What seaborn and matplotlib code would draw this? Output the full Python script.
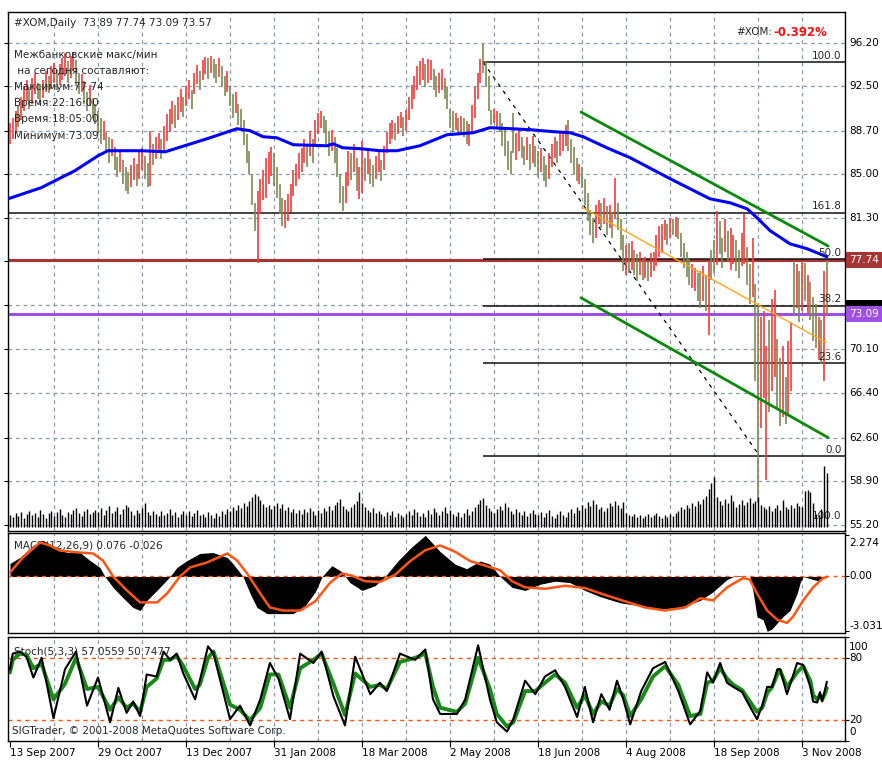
import matplotlib
matplotlib.use("Agg")
import matplotlib.pyplot as plt
import matplotlib.transforms as mtransforms
from matplotlib.patches import Rectangle
import seaborn as sns

# values; x is the bar number (0 = 13 Sep 2007)
date_pos = [0, 32, 64, 96, 128, 160, 192, 224, 256, 288]
date_labels = ["13 Sep 2007", "29 Oct 2007", "13 Dec 2007", "31 Jan 2008", "18 Mar 2008",
               "2 May 2008", "18 Jun 2008", "4 Aug 2008", "18 Sep 2008", "3 Nov 2008"]

price_ticks = [96.20, 92.50, 88.70, 85.00, 81.30, 77.60, 73.85, 70.10, 66.40, 62.60, 58.90, 55.20]
price_ticklabels = ["96.20", "92.50", "88.70", "85.00", "81.30", "", "", "70.10", "66.40",
                    "62.60", "58.90", "55.20"]

# daily bars: lows / highs, direction r = up (red), g = down (olive)
lows = [87.6, 88.0, 88.5, 89.0, 89.6, 90.4, 91.2, 90.6, 91.0, 91.8, 91.4, 90.9, 91.5, 92.0, 91.9, 92.3,
        92.8, 92.2, 92.6, 93.0, 93.4, 92.8, 93.2, 93.8, 92.5, 91.8, 92.0, 91.0, 90.4, 90.8, 89.8, 89.3,
        88.4, 87.6, 87.9, 86.8, 86.0, 86.6, 85.4, 84.8, 85.2, 84.2, 83.6, 83.35, 83.9, 84.5, 84.0, 84.6,
        85.4, 84.6, 83.9, 84.0, 85.8, 86.3, 86.8, 86.3, 86.9, 87.8, 88.6, 89.3, 88.9, 89.6, 90.3, 89.9,
        90.8, 91.4, 90.6, 91.8, 92.7, 92.2, 93.0, 93.5, 93.1, 93.6, 93.2, 92.8, 93.3, 92.4, 91.7, 92.0,
        90.8, 89.8, 90.2, 89.2, 88.9, 87.5, 86.0, 85.0, 82.4, 80.2, 77.5, 81.6, 82.8, 83.0, 84.2, 84.9,
        84.0, 83.0, 81.6, 80.6, 80.4, 81.0, 81.8, 83.2, 84.0, 84.6, 85.2, 86.0, 85.6, 86.6, 86.0, 87.4,
        88.4, 88.9, 88.5, 87.6, 86.6, 87.0, 86.0, 84.8, 82.6, 81.9, 82.6, 84.0, 84.5, 85.2, 83.6, 82.9,
        83.4, 84.4, 85.0, 84.2, 83.9, 84.6, 85.2, 84.4, 85.4, 86.8, 87.6, 88.0, 87.9, 88.4, 88.9, 88.3,
        88.7, 89.6, 90.6, 91.4, 92.2, 92.6, 93.0, 92.4, 92.8, 93.0, 92.2, 91.6, 91.9, 92.2, 91.4, 90.6,
        88.9, 88.6, 88.8, 88.4, 88.6, 88.2, 87.6, 87.4, 88.5, 89.8, 91.4, 92.8, 93.6, 92.4, 90.4, 89.2,
        89.4, 89.0, 88.6, 87.4, 86.6, 85.4, 85.0, 86.8, 86.2, 87.0, 86.4, 85.8, 86.2, 85.4, 86.0, 85.6,
        84.8, 85.2, 84.4, 83.9, 84.6, 85.6, 86.4, 86.0, 86.6, 87.0, 87.4, 87.0, 86.0, 85.0, 84.4, 84.2,
        83.8, 82.4, 81.0, 79.8, 79.2, 79.6, 80.8, 80.4, 80.8, 79.8, 80.4, 79.6, 81.2, 80.3, 78.6, 76.8,
        76.4, 76.6, 76.9, 76.4, 75.9, 76.4, 76.0, 76.2, 75.9, 76.3, 76.8, 77.2, 78.0, 78.3, 79.4, 79.0,
        79.6, 79.8, 79.7, 79.5, 78.0, 77.0, 76.3, 75.6, 75.3, 75.1, 74.2, 73.6, 74.2, 73.4, 71.3, 76.0,
        76.6, 77.3, 78.2, 77.0, 78.4, 77.6, 76.9, 77.4, 76.8, 76.2, 77.2, 77.4, 75.6, 74.0, 74.6, 67.4,
        57.0, 63.4, 66.0, 59.0, 64.8, 66.6, 67.8, 65.0, 63.6, 64.4, 63.8, 64.6, 66.6, 73.0, 73.6, 72.4,
        73.4, 74.2, 73.2, 72.6, 70.8, 70.2, 69.2, 68.9, 67.4, 73.09]
highs = [89.4, 89.8, 90.4, 90.9, 91.6, 92.5, 93.0, 92.4, 93.2, 93.6, 92.8, 92.6, 93.0, 93.8, 93.4, 94.2,
         94.5, 93.9, 94.4, 94.9, 95.3, 94.6, 95.1, 95.4, 94.7, 93.6, 93.5, 92.9, 92.0, 92.6, 91.5, 91.0,
         90.4, 89.8, 89.5, 88.6, 88.2, 88.0, 87.3, 86.5, 86.9, 86.2, 85.6, 85.2, 85.8, 86.4, 85.9, 87.0,
         87.2, 86.6, 86.0, 88.7, 87.6, 88.2, 88.5, 88.0, 89.1, 90.1, 90.6, 91.2, 90.9, 91.6, 92.3, 91.6,
         92.5, 93.0, 92.2, 93.6, 94.3, 93.8, 94.7, 95.0, 94.9, 95.1, 94.8, 94.4, 94.9, 94.2, 93.4, 93.8,
         92.5, 91.8, 92.0, 91.0, 90.6, 89.6, 88.4, 87.0, 85.0, 82.6, 83.6, 84.6, 85.4, 86.4, 86.9, 87.3,
         86.8, 85.6, 84.2, 83.0, 82.8, 83.3, 84.2, 85.4, 85.9, 86.8, 87.2, 88.0, 87.4, 88.7, 88.0, 89.6,
         90.2, 90.4, 90.0, 89.6, 88.7, 88.8, 88.2, 87.2, 85.0, 84.0, 85.2, 87.0, 86.8, 87.6, 86.4, 85.6,
         87.8, 86.4, 87.2, 86.3, 85.8, 86.6, 87.0, 86.2, 87.4, 88.6, 89.4, 89.6, 89.4, 90.0, 90.3, 89.9,
         90.5, 91.6, 92.6, 93.4, 94.2, 94.6, 94.9, 94.4, 94.8, 94.7, 94.0, 93.4, 93.6, 94.0, 93.2, 92.4,
         90.6, 90.4, 90.2, 89.8, 90.0, 89.8, 89.5, 89.3, 90.9, 92.4, 93.6, 94.8, 96.1, 94.6, 93.4, 90.5,
         90.6, 90.4, 90.2, 89.4, 88.8, 87.8, 87.0, 90.2, 88.5, 88.8, 88.2, 87.4, 88.2, 87.6, 88.3, 87.4,
         87.0, 87.2, 86.6, 85.8, 86.8, 87.6, 88.2, 87.8, 88.6, 88.7, 89.2, 89.6, 88.0, 87.3, 86.4, 85.9,
         85.6, 84.6, 83.4, 82.0, 81.3, 82.4, 82.8, 82.6, 83.0, 82.3, 82.4, 81.8, 84.7, 82.6, 81.2, 79.8,
         79.0, 79.2, 79.3, 78.6, 78.2, 78.4, 77.8, 78.0, 77.6, 78.3, 78.4, 79.8, 80.6, 80.8, 81.1, 80.8,
         81.3, 81.2, 81.4, 81.3, 80.0, 79.2, 78.4, 77.8, 77.4, 77.0, 76.6, 76.8, 77.2, 76.4, 77.6, 78.6,
         79.4, 81.9, 81.0, 79.6, 81.2, 80.2, 80.4, 79.8, 79.4, 78.6, 80.0, 81.6, 78.8, 77.4, 79.6, 75.7,
         73.8, 72.9, 73.4, 70.4, 72.6, 74.4, 75.2, 71.0, 69.4, 70.4, 67.8, 70.8, 72.4, 77.6, 77.4, 76.8,
         77.6, 77.5, 76.4, 75.8, 74.6, 74.0, 72.9, 72.6, 76.8, 77.74]
direction_blocks = ["rrrgrrrgrrggrrgrrgrrrgrrggrggrgg",
                    "ggrggrggrgggrrgrrggrgrrgrrrrgrrg",
                    "rrgrrgrrgrggrggrggrgggggggrrrrrr",
                    "ggggrrrrrrrrgrgrrrgggrggggrrgrgr",
                    "rgrggrrgrrrrgrrgrrrrrrrgrrggrrgg",
                    "ggrgrggrrrrrggggrrggggggrrggrgrg",
                    "grggrrrgrrrggggrgggggrrgrgrgrggg",
                    "rgrggrgrgrrrrrrgrgrgggggrrggrgrg",
                    "grggrgrrggrrggrggrrrgrrggrgrrgrg",
                    "rgrgggrgrg"]
directions = "".join(direction_blocks)

# volume (millions of shares)
volume = [12, 10, 14, 11, 15, 9, 13, 16, 12, 14, 10, 17, 13, 9, 14, 16, 11, 15, 18, 12, 10, 15, 13, 17,
          19, 14, 11, 16, 18, 13, 15, 17,
          15, 19, 12, 17, 21, 14, 16, 20, 13, 18, 22, 20, 16, 12, 17, 14, 19, 24, 15, 12, 16, 13, 11, 16,
          12, 14, 18, 12, 15, 10, 13, 16,
          12, 16, 11, 14, 17, 12, 13, 10, 15, 12, 9, 14, 11, 16, 13, 18, 16, 20, 17, 22, 19, 24, 21, 26,
          30, 33, 31, 27, 23, 20, 22, 18,
          21, 24, 19, 23, 17, 20, 15, 18, 14, 17, 13, 18, 15, 19, 16, 12, 17, 14, 19, 16, 21, 17, 22, 25,
          28, 21, 18, 16, 20, 23, 26, 35,
          24, 20, 17, 15, 19, 14, 16, 13, 11, 15, 12, 16, 10, 14, 12, 10, 13, 16, 12, 18, 15, 11, 14, 10,
          17, 13, 19, 15, 12, 16, 20, 14,
          17, 13, 11, 15, 10, 14, 18, 12, 16, 20, 23, 27, 29, 22, 19, 16, 14, 18, 21, 17, 24, 20, 16, 13,
          18, 15, 12, 16, 11, 14, 17, 13,
          12, 15, 10, 14, 17, 11, 9, 13, 16, 12, 10, 15, 18, 14, 20, 17, 22, 19, 25, 21, 27, 23, 18, 20,
          16, 19, 24, 21, 26, 22, 19, 25,
          14, 12, 11, 13, 10, 12, 9, 11, 13, 10, 12, 14, 11, 9, 12, 10, 13, 11, 14, 16, 20, 18, 22, 19,
          24, 21, 26, 23, 28, 31, 38, 44,
          50, 30, 26, 22, 28, 24, 32, 26, 20, 23, 27, 22, 25, 29, 24, 26, 30, 22, 20, 18, 21, 16, 19, 22,
          17, 27, 20, 18, 22, 19, 24, 21,
          20, 36, 37, 35, 24, 13, 12, 18, 61, 54]

# moving average (blue)
ma_idx = [-0.7, 11.3, 23.6, 32, 35.6, 47.6, 56.4, 65.8, 72.7, 82.5, 87.3, 92, 97, 103, 115.3, 117.5,
          121, 127.3, 134.5, 140.7, 149, 158.9, 168.4, 174.5, 189, 197.5, 203.6, 208.4, 217, 225.5,
          240, 254.5, 261.8, 268, 271.6, 276.4, 283.6, 289.8, 297]
ma_val = [82.92, 83.86, 85.31, 86.58, 87.01, 87.01, 86.92, 87.60, 88.11, 88.88, 88.71, 88.20, 88.11,
          87.52, 87.43, 87.60, 87.26, 87.18, 87.01, 87.01, 87.43, 88.37, 88.54, 88.97, 88.80, 88.63,
          88.54, 88.20, 87.26, 86.41, 84.63, 82.92, 82.58, 82.07, 81.31, 80.20, 79.09, 78.67, 77.99]

# drawn objects: channel, regression, fibonacci
channel_x = [207.6, 297.5]
channel_upper = [90.3, 78.9]
channel_lower = [74.5, 62.6]
regress_x = [208, 296.7]
regress_y = [82.2, 70.7]
fib_x = [172, 272.7]
fib_y = [94.54, 61.0]
fib_levels = [0.0, 23.6, 38.2, 50.0, 61.8, 100.0]
fib_names = ["0.0", "23.6", "38.2", "50.0", "161.8", "100.0"]
day_high, day_low, last_price = 77.74, 73.09, 73.57

# MACD(12,26,9)
macd_idx = [0, 3.6, 8.4, 12, 17, 20.7, 25.5, 29, 32.7, 34.5, 37.5, 41, 44.7, 47.3, 49.8, 54.5, 58.2,
            60.7, 64.4, 69, 73.8, 79, 81, 84.7, 87.3, 89.8, 93.5, 98.2, 103, 107.3, 111, 113.5, 117,
            120.7, 123.6, 128, 132.7, 136.4, 141, 146, 151, 156.4, 161.8, 166, 171, 174.5, 178.2,
            182.5, 187.3, 192.7, 198.2, 203.6, 209, 214.5, 221.8, 229, 236.4, 243.6, 251, 255.6,
            260.7, 263.6, 269, 270.2, 271.6, 273.8, 275.3, 277, 279, 281, 283.6, 286.2, 287.3,
            288.4, 292, 294.5, 297]
macd_hist = [0.72, 1.05, 1.71, 1.99, 1.61, 1.32, 1.32, 0.89, 0.50, 0.0, -0.61, -1.16, -1.71, -1.88,
             -1.32, -0.60, 0.0, 0.50, 0.88, 1.27, 1.32, 1.05, 0.72, 0.0, -0.94, -1.71, -2.05, -2.05,
             -2.05, -1.62, -0.85, 0.0, 0.60, 0.26, -0.34, -0.77, -0.51, 0.0, 0.85, 1.62, 2.27, 1.37,
             0.68, 0.43, 0.85, 0.68, 0.0, -0.60, -0.77, -0.43, -0.26, -0.34, -0.77, -1.11, -1.45,
             -1.62, -1.79, -1.71, -1.32, -0.85, -0.17, 0.04, 0.0, -0.85, -2.22, -2.39, -3.03, -2.9,
             -2.56, -2.22, -1.88, -0.94, -0.34, 0.0, -0.17, -0.26, 0.076]
signal_idx = [0, 4.7, 10.9, 14.5, 18.2, 25.5, 30.2, 33.8, 37.5, 42.5, 47.3, 53.5, 57.1, 61.8, 65.5,
              71.6, 79, 82.5, 86.2, 91, 94.5, 99.3, 105.5, 111, 116.4, 120.7, 124.4, 129, 134.5, 140,
              145.5, 151, 156.4, 161.8, 167.3, 172.7, 178.2, 182.5, 187.3, 194.5, 201.8, 209, 216.4,
              223.6, 230.9, 238.2, 245.5, 251, 255.6, 260.7, 266.5, 269, 271.6, 275.3, 279, 282.5,
              284.7, 288.4, 292, 295.6, 297]
signal_val = [0.22, 1.05, 1.88, 1.71, 1.43, 1.32, 1.27, 0.88, 0.0, -0.77, -1.43, -1.43, -0.94, 0.0,
              0.50, 0.77, 1.27, 0.89, 0.17, -0.94, -1.71, -1.88, -1.88, -1.37, -0.34, 0.17, 0.04,
              -0.26, -0.30, 0.09, 0.85, 1.45, 1.71, 1.37, 0.85, 0.60, 0.34, -0.26, -0.60, -0.68, -0.51,
              -0.64, -1.02, -1.37, -1.71, -1.88, -1.71, -1.20, -1.32, -0.60, -0.09, -0.17, -0.94,
              -1.88, -2.39, -2.56, -2.22, -1.32, -0.60, -0.09, -0.026]
macd_ticks = [2.274, 0.0, -3.031]
macd_ticklabels = ["2.274", "0.00", "-3.031"]

# Stochastic(5,3,3)
stoch_idx = [0, 1, 3.6, 6, 8.5, 11.5, 15.8, 20, 24, 28, 32, 36.4, 39.4, 42.4, 44.8, 47.3, 49.7, 53.3,
             55.8, 58.2, 60.6, 63, 67.3, 69, 72, 74, 80, 83.6, 87.3, 91, 94.5, 97.6, 101.8, 105.5,
             110.3, 113.3, 117.6, 121.8, 125.5, 131, 134.5, 137, 141.8, 147.3, 151, 153.8, 156.4,
             162.5, 165.5, 170.2, 174.5, 177, 180.7, 183, 187.3, 191, 194.5, 198.2, 201.8, 206.2, 209,
             212, 215, 218, 220.7, 223, 225.5, 229.5, 233.8, 238.2, 243, 247.3, 251, 253.5, 255.6,
             258.2, 260.7, 263, 266.2, 268, 271.6, 273.5, 275.3, 277.1, 279, 280, 282.5, 286.2, 288.4,
             291, 292, 293.5, 294.5, 295.3, 296.4, 297]
stoch_main = [69, 84, 86, 81, 61, 80, 22, 69, 86, 34, 61, 18, 51, 27, 38, 24, 64, 62, 86, 78, 84, 65,
              40, 58, 91, 84, 21, 34, 15, 40, 75, 60, 21, 84, 75, 86, 43, 15, 81, 45, 56, 48, 84,
              78, 88, 40, 26, 26, 40, 92, 40, 18, 9, 21, 58, 45, 62, 68, 52, 23, 52, 18, 45, 30, 58,
              40, 16, 48, 70, 76, 48, 16, 29, 66, 56, 75, 56, 52, 47, 38, 21, 34, 52, 52, 69, 69, 45,
              75, 73, 52, 38, 37, 47, 38, 50, 57]
stoch_signal = [66, 78, 84, 83, 70, 74, 40, 55, 80, 50, 52, 30, 42, 32, 36, 28, 52, 60, 78, 78, 82, 72,
                50, 54, 80, 86, 35, 30, 20, 32, 64, 64, 32, 70, 78, 84, 55, 25, 65, 52, 54, 50, 76,
                80, 84, 52, 32, 28, 36, 80, 50, 26, 14, 18, 48, 48, 56, 64, 56, 32, 44, 26, 38, 34, 50,
                44, 24, 40, 62, 72, 54, 24, 26, 56, 58, 70, 60, 54, 49, 42, 28, 32, 46, 52, 64, 68, 52,
                66, 72, 58, 44, 40, 44, 40, 46, 51]
stoch_ticks = [100, 80, 20, 0]
stoch_ticklabels = ["100", "80", "20", "0"]

n = min(len(lows), len(highs), len(directions), len(volume))
bar_idx = list(range(n))

# ---------------------------------------------------------------------------
sns.set_theme(style="white")
plt.rcParams['font.family'] = ['DejaVu Sans']
FS = 7.5
GRID = "#8c9bab"
RED = "#f23c3c"
OLIVE = "#7b8a52"
ORANGE_RED = "#ff5514"

W, H = 882, 760
fig = plt.figure(figsize=(W / 100, H / 100), dpi=100)


def rect(x0, y0, x1, y1):
    return [x0 / W, 1 - y1 / H, (x1 - x0) / W, (y1 - y0) / H]


ax = fig.add_axes(rect(8, 12, 845, 531))
ax_m = fig.add_axes(rect(8, 533, 845, 633))
ax_s = fig.add_axes(rect(8, 637, 845, 741))
XL = (-0.73, 303.6)

for a in (ax, ax_m, ax_s):
    a.set_xlim(*XL)
    a.set_facecolor("white")
    for sp in a.spines.values():
        sp.set_color("black")
        sp.set_linewidth(1.0)
        sp.set_visible(True)
    for g in range(16, 304, 16):
        a.axvline(g, color=GRID, lw=0.9, ls=(0, (3, 3)), zorder=0.5)
    a.yaxis.tick_right()
    a.tick_params(axis='y', right=True, left=False, labelleft=False, labelright=False, length=3,
                  width=0.8, colors="black")
    a.tick_params(axis='x', bottom=False, labelbottom=False)


def right_labels(a, values, labels, shifts=None):
    # value labels in the right margin; shift in pixels (positive = down)
    tr = mtransforms.blended_transform_factory(a.transAxes, a.transData)
    shifts = shifts or [0] * len(values)
    for v, s, d in zip(values, labels, shifts):
        if s:
            off = mtransforms.offset_copy(tr, fig=fig, x=0, y=-d * 0.72, units="points")
            a.text(1.0048, v, s, transform=off, ha="left", va="center", fontsize=FS, color="black")


# ---- main price panel
ax.set_ylim(54.66, 98.81)
ax.set_yticks(price_ticks)
ax.set_yticklabels([])
right_labels(ax, price_ticks, price_ticklabels)
for p in price_ticks:
    ax.axhline(p, color=GRID, lw=0.9, ls=(0, (3, 3)), zorder=0.5)

bar_colors = [RED if c == "r" else OLIVE for c in directions[:n]]
ax.vlines(bar_idx, lows[:n], highs[:n], colors=bar_colors, lw=1.2, zorder=3)

ax.axhline(day_high, color="#a83434", lw=2.2, zorder=2)
ax.axhline(day_low, color="#9d4fe6", lw=2.2, zorder=2)

fib_span = fib_y[0] - fib_y[1]
for lvl, name in zip(fib_levels, fib_names):
    price = fib_y[1] + lvl / 100 * fib_span
    start = XL[0] if name == "161.8" else fib_x[0]
    ax.hlines(price, start, XL[1], color="#111111", lw=1.1, zorder=2.5)
    ax.text(302.3, price + 0.12, name, ha="right", va="bottom", fontsize=FS, zorder=6)
ax.text(302.3, 55.9, "100.0", ha="right", va="center", fontsize=FS, zorder=1)
ax.plot(fib_x, fib_y, color="black", lw=0.9, ls=(0, (3, 4)), zorder=2.6)

ax.plot(channel_x, channel_upper, color="#0a8a0a", lw=2.0, zorder=4)
ax.plot(channel_x, channel_lower, color="#0a8a0a", lw=2.0, zorder=4)
ax.plot(regress_x, regress_y, color="#ffa61a", lw=1.0, zorder=4)
sns.lineplot(x=ma_idx, y=ma_val, ax=ax, color="#0000ff", lw=2.2, zorder=5, legend=False)

# right side price boxes (bid box mostly hidden behind the low box)
bt = mtransforms.blended_transform_factory(ax.transAxes, ax.transData)
ax.add_patch(Rectangle((1.001, last_price - 0.7), 0.06, 1.4, transform=bt, fc="black", ec="none",
                       clip_on=False, zorder=7))
ax.text(1.0055, day_low, f"{day_low:.2f}", transform=bt, ha="left", va="center", fontsize=FS,
        color="white", bbox=dict(boxstyle="square,pad=0.3", fc="#9d4fe6", ec="none"), zorder=8)
ax.text(1.0055, day_high, f"{day_high:.2f}", transform=bt, ha="left", va="center", fontsize=FS,
        color="white", bbox=dict(boxstyle="square,pad=0.3", fc="#a83434", ec="none"), zorder=8)

# volume in the bottom of the price panel
ax_v = ax.twinx()
ax_v.set_xlim(*XL)
ax_v.set_ylim(-4, 515)
ax_v.vlines(bar_idx, 0, volume[:n], colors="black", lw=1.0)
ax_v.axis("off")

# texts
info = [("#XOM,Daily  73.89 77.74 73.09 73.57", 23),
        ("Межбанковские макс/мин", 55),
        (" на сегодня составляют:", 71),
        ("Максимум:77.74", 87),
        ("Время:22:16:00", 103),
        ("Время:18:05:00", 119),
        ("Минимум:73.09", 136)]
for s, ypx in info:
    fig.text(14 / W, 1 - ypx / H, s, ha="left", va="center", fontsize=FS, zorder=10)
fig.text(772 / W, 1 - 32 / H, "#XOM:", ha="right", va="center", fontsize=FS)
fig.text(773 / W, 1 - 32 / H, "-0.392%", ha="left", va="center", fontsize=8.5, color="#ff1010",
         fontweight="bold")

# ---- MACD panel
ax_m.set_ylim(-3.12, 2.40)
ax_m.text(0.0072, 0.87, "MACD(12,26,9) 0.076 -0.026", transform=ax_m.transAxes, fontsize=FS,
          ha="left", va="center", zorder=1)
ax_m.fill_between(macd_idx, macd_hist, 0, color="black", lw=0, zorder=2)
ax_m.axhline(0, color=ORANGE_RED, lw=1.0, ls=(0, (3, 3)), zorder=2.5)
sns.lineplot(x=signal_idx, y=signal_val, ax=ax_m, color=ORANGE_RED, lw=1.8, zorder=3, legend=False)
ax_m.set_yticks(macd_ticks)
ax_m.set_yticklabels([])
right_labels(ax_m, macd_ticks, macd_ticklabels, shifts=[8, 0, -5])

# ---- Stochastic panel
ax_s.set_ylim(0, 100)
ax_s.text(0.0072, 0.865, "Stoch(5,3,3) 57.0559 50.7477", transform=ax_s.transAxes, fontsize=FS,
          ha="left", va="center", zorder=1)
ax_s.text(0.005, 0.096, "SIGTrader, © 2001-2008 MetaQuotes Software Corp.", transform=ax_s.transAxes,
          fontsize=FS, ha="left", va="center", zorder=1)
for lvl in (80, 20):
    ax_s.axhline(lvl, color=ORANGE_RED, lw=1.0, ls=(0, (3, 3)), zorder=1.5)
sns.lineplot(x=stoch_idx, y=stoch_signal, ax=ax_s, color="#178a17", lw=2.8, zorder=2, legend=False)
sns.lineplot(x=stoch_idx, y=stoch_main, ax=ax_s, color="black", lw=1.5, zorder=3, legend=False)
ax_s.set_yticks(stoch_ticks)
ax_s.set_yticklabels([])
right_labels(ax_s, stoch_ticks, stoch_ticklabels, shifts=[10, 0, 0, -9])
ax_s.set_xticks(date_pos)
ax_s.set_xticklabels(date_labels, ha="left", fontsize=FS)
ax_s.tick_params(axis='x', bottom=True, labelbottom=True, length=4, width=0.8, pad=1, colors="black")

for a in (ax, ax_m, ax_s):
    a.set_xlabel("")
    a.set_ylabel("")

fig.savefig("out.png", dpi=100)
